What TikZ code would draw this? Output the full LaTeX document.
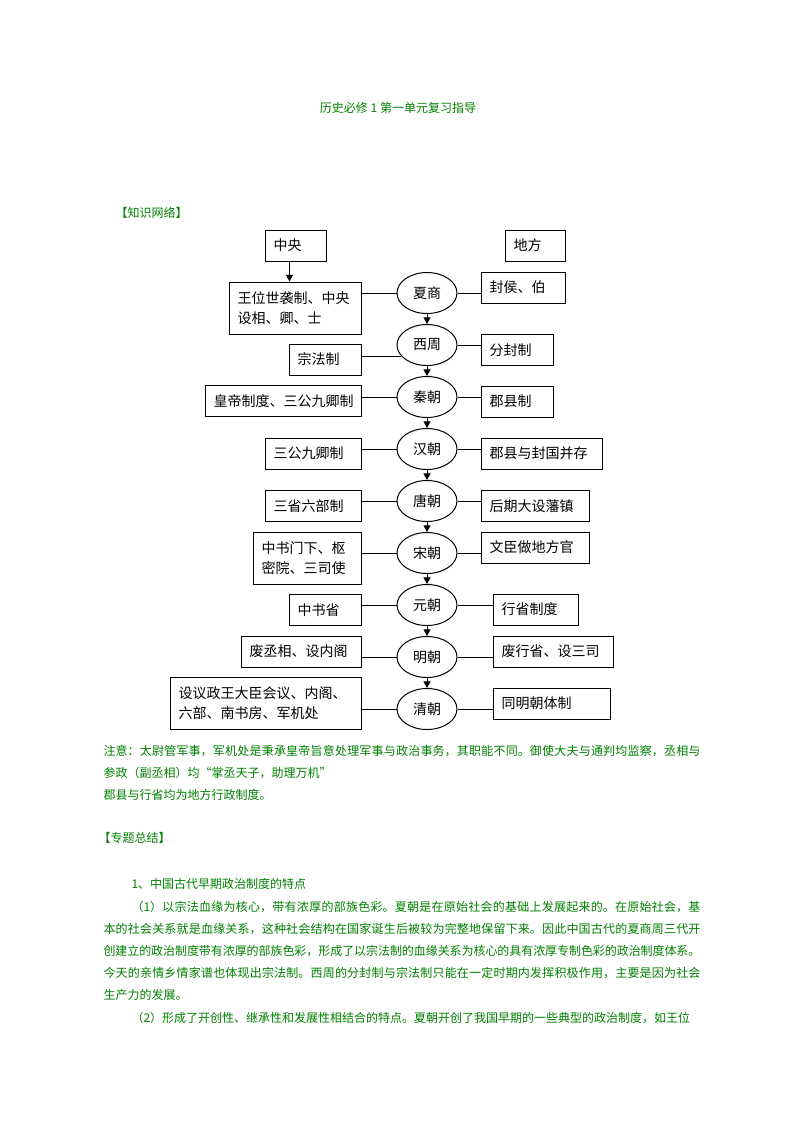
\documentclass[tikz,border=0pt]{standalone}
\usepackage{fontspec}
\setmainfont{Noto Sans CJK SC}
\usetikzlibrary{shapes.geometric}
\usetikzlibrary{arrows.meta}
\definecolor{notegreen}{RGB}{0,128,0}
\newcommand{\zhbreak}{\XeTeXlinebreaklocale "zh"\XeTeXlinebreakskip=0pt plus 2pt minus 0.4pt\relax}

\begin{document}
\begin{tikzpicture}[x=0.75pt,y=-0.75pt,line width=0.75pt,
  dyn/.style={draw,ellipse,minimum width=45pt,minimum height=30.75pt,inner sep=0pt,font=\fontsize{10.5}{15}\selectfont},
  box/.style={draw,rectangle,inner xsep=6.5pt,inner ysep=2pt,text width=#1,align=left,minimum height=23.25pt,font=\fontsize{10.5}{15}\selectfont},
  tall/.style={minimum height=39pt},
  green text/.style={text=notegreen,inner sep=0pt,font=\fontsize{9}{16.5}\selectfont},
  para/.style={green text,text width=447.75pt,align=justify},
  flow/.style={-{Triangle[width=5.25pt,length=5pt]}}]
\fill[white] (0,0) rectangle (793,1122);
\useasboundingbox (0,0) rectangle (793,1122);

% headings
\node[green text,anchor=base] (title) at (398,112.5) {历史必修 1 第一单元复习指导};
\node[green text,anchor=base west] (net) at (115,217.5) {【知识网络】};

% top labels
\node[box=32.75pt] (zy) at (295.5,245.5) {中央};
\node[box=32pt] (df) at (535,245.5) {地方};

% dynasties
\node[dyn] (xs) at (427,293) {夏商};
\node[dyn] (xz) at (427,345) {西周};
\node[dyn] (qin) at (427,397) {秦朝};
\node[dyn] (han) at (427,449) {汉朝};
\node[dyn] (tang) at (427,501) {唐朝};
\node[dyn] (song) at (427,553) {宋朝};
\node[dyn] (yuan) at (427,605) {元朝};
\node[dyn] (ming) at (427,657) {明朝};
\node[dyn] (qing) at (427,709) {清朝};

% central systems
\node[box=86pt,tall] (wang) at (295,308) {王位世袭制、中央\\设相、卿、士};
\node[box=41pt] (zongfa) at (325,359.5) {宗法制};
\node[box=104pt] (huangdi) at (283,401) {皇帝制度、三公九卿制};
\node[box=59pt] (sangong) at (313,453.5) {三公九卿制};
\node[box=59pt] (sansheng) at (313,506) {三省六部制};
\node[box=68pt,tall] (menxia) at (307,558) {中书门下、枢\\密院、三司使};
\node[box=41pt] (zssheng) at (325,610) {中书省};
\node[box=77pt] (feicx) at (301,651.5) {废丞相、设内阁};
\node[box=130.25pt,tall] (yizheng) at (265.5,703) {设议政王大臣会议、内阁、\\六部、南书房、军机处};

% local systems
\node[box=50pt] (fenghou) at (523,287.5) {封侯、伯};
\node[box=41pt] (fenfeng) at (517,350) {分封制};
\node[box=41pt] (junxian) at (517,401.5) {郡县制};
\node[box=77.75pt] (bingcun) at (541.5,453.5) {郡县与封国并存};
\node[box=68pt] (fanzhen) at (535,506) {后期大设藩镇};
\node[box=68pt] (wenchen) at (535,547.5) {文臣做地方官};
\node[box=50.75pt] (xingsheng) at (535.5,609.5) {行省制度};
\node[box=77pt] (feixs) at (553,651.5) {废行省、设三司};
\node[box=74.75pt] (tongming) at (551.5,703.5) {同明朝体制};

% connectors
\coordinate (zyfoot) at ([xshift=-4.5pt]zy.south);
\draw[flow] (zyfoot) -- (zyfoot |- wang.north);
\draw[flow] (xs.south) -- (xz.north);
\draw[flow] (xz.south) -- (qin.north);
\draw[flow] (qin.south) -- (han.north);
\draw[flow] (han.south) -- (tang.north);
\draw[flow] (tang.south) -- (song.north);
\draw[flow] (song.south) -- (yuan.north);
\draw[flow] (yuan.south) -- (ming.north);
\draw[flow] (ming.south) -- (qing.north);

\draw (xs.west) -- (xs.west -| wang.east);
\draw (xz.203) -- (xz.203 -| zongfa.east);
\draw (qin.west) -- (qin.west -| huangdi.east);
\draw (han.west) -- (han.west -| sangong.east);
\draw (tang.west) -- (tang.west -| sansheng.east);
\draw (song.west) -- (song.west -| menxia.east);
\draw (yuan.west) -- (yuan.west -| zssheng.east);
\draw (ming.west) -- (ming.west -| feicx.east);
\draw (qing.west) -- (qing.west -| yizheng.east);

\draw (xs.east) -- (xs.east -| fenghou.west);
\draw (xz.east) -- (xz.east -| fenfeng.west);
\draw (qin.east) -- (qin.east -| junxian.west);
\draw (han.east) -- (han.east -| bingcun.west);
\draw (tang.east) -- (tang.east -| fanzhen.west);
\draw (song.east) -- (song.east -| wenchen.west);
\draw (yuan.east) -- (yuan.east -| xingsheng.west);
\draw (ming.east) -- (ming.east -| feixs.west);
\draw (qing.east) -- (qing.east -| tongming.west);

% notes and summary
\node[para,anchor=base west] (note) at (103,755.5) {\zhbreak 注意：太尉管军事，军机处是秉承皇帝旨意处理军事与政治事务，其职能不同。御使大夫与通判均监察，丞相与\linebreak
参政（副丞相）均“掌丞天子，助理万机”\\
郡县与行省均为地方行政制度。};
\node[green text,anchor=base west] (sum) at (98,842.5) {【专题总结】};
\node[green text,anchor=base west] (pt1) at (131,888.5) {1、中国古代早期政治制度的特点};
\node[para,anchor=base west] (para1) at (103,911.5) {\zhbreak\hspace*{21pt}（1）以宗法血缘为核心，带有浓厚的部族色彩。夏朝是在原始社会的基础上发展起来的。在原始社会，基\linebreak
本的社会关系就是血缘关系，这种社会结构在国家诞生后被较为完整地保留下来。因此中国古代的夏商周三代开\linebreak
创建立的政治制度带有浓厚的部族色彩，形成了以宗法制的血缘关系为核心的具有浓厚专制色彩的政治制度体系。\linebreak
今天的亲情乡情家谱也体现出宗法制。西周的分封制与宗法制只能在一定时期内发挥积极作用，主要是因为社会\linebreak
生产力的发展。};
\node[para,anchor=base west] (para2) at (103,1022.5) {\zhbreak\parfillskip=0pt\hspace*{21pt}（2）形成了开创性、继承性和发展性相结合的特点。夏朝开创了我国早期的一些典型的政治制度，如王位};

\end{tikzpicture}
\end{document}
